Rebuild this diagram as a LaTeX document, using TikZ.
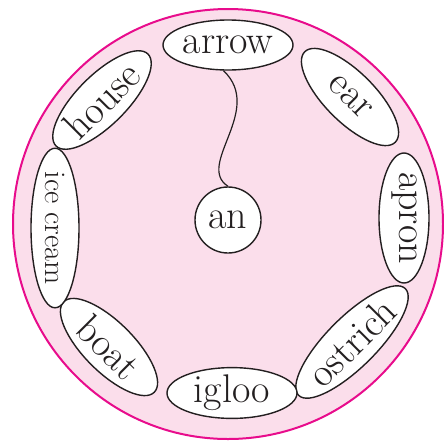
\documentclass[tikz,border=0pt]{standalone}
\usepackage{tikz}
\usetikzlibrary{shapes.geometric}
\definecolor{rimpink}{RGB}{232,12,140}
\definecolor{softpink}{RGB}{251,222,235}
\definecolor{inkgray}{RGB}{35,31,32}
\begin{document}
\begin{tikzpicture}[x=0.5pt, y=-0.5pt, every node/.style={font=\fontsize{20}{22}\selectfont,text=inkgray},
  word/.style={draw=inkgray,fill=white,ellipse,line width=0.7pt,inner sep=0pt,minimum width=65pt,minimum height=25pt},
  hub/.style={draw=inkgray,fill=white,circle,line width=0.7pt,inner sep=0pt,minimum size=33pt}]
  \useasboundingbox (0,0) rectangle (444,440);
  \draw[rimpink,fill=softpink,line width=1pt] (228,224) circle[radius=107.5pt];
  \node[hub] (an) at (228,220) {an};
  \node[word] (arrow) at (228,45) {arrow};
  \node[word,rotate=-45,minimum width=64pt] (ear) at (350,97) {ear};
  \node[word,rotate=-90,minimum width=65pt] (apron) at (404,218) {apron};
  \node[word,rotate=45] (ostrich) at (352,342) {ostrich};
  \node[word] (igloo) at (232,393) {igloo};
  \node[word,rotate=-45,minimum width=64pt] (boat) at (109,347) {boat};
  \node[word,rotate=-90,font=\fontsize{15}{17}\selectfont,minimum width=64pt,minimum height=24pt] (icecream) at (55,228) {ice cream};
  \node[word,rotate=45] (house) at (102,100) {house};
  \draw[inkgray,line width=0.6pt] (arrow.260) .. controls (265,110) and (195,165) .. (an.north);
\end{tikzpicture}
\end{document}
